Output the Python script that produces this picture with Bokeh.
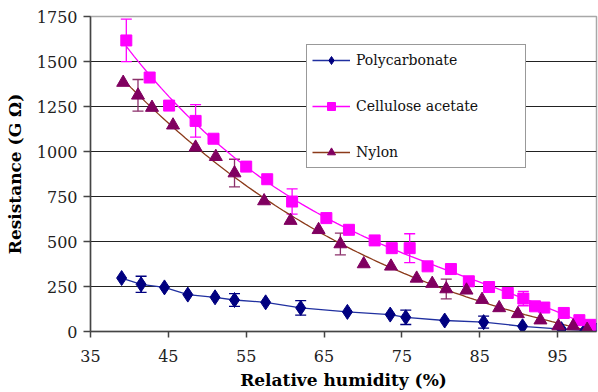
import numpy as np
from bokeh.plotting import figure
from bokeh.models import (ColumnDataSource, FixedTicker, Legend, LegendItem, Whisker, TeeHead)
from bokeh.embed import file_html
from bokeh.resources import INLINE

# ---- data ----
pc_x = [39, 41.5, 44.5, 47.5, 51, 53.5, 57.5, 62, 68, 73.5, 75.5, 80.5, 85.5, 90.5, 95.5, 98.5, 100]
pc_y = [297, 262, 245, 205, 190, 175, 162, 131, 109, 94, 79, 61, 52, 29, 13, 6, 5]
pc_err_x = [41.5, 53.5, 62, 75.5, 85.5]
pc_err_y = [262, 175, 131, 79, 52]
pc_err = [45, 35, 40, 40, 33]

ca_x = [39.6, 42.6, 45.1, 48.5, 50.8, 55.0, 57.7, 60.9, 65.3, 68.2, 71.5, 73.7, 76.0,
        78.3, 81.3, 83.6, 86.2, 88.6, 90.6, 92.1, 93.3, 95.8, 97.8, 99.2]
ca_y = [1617, 1411, 1255, 1170, 1071, 916, 846, 722, 630, 565, 506, 463, 463,
        362, 347, 279, 247, 214, 183, 140, 133, 103, 63, 37]
ca_err_x = [39.6, 48.5, 60.9, 76.0, 90.6]
ca_err_y = [1617, 1170, 722, 463, 183]
ca_err = [118, 90, 70, 80, 40]

ny_x = [39.2, 41.1, 42.9, 45.6, 48.5, 51.1, 53.5, 57.3, 60.7, 64.3, 67.1, 70.1, 73.6,
        76.9, 78.9, 80.7, 83.3, 85.3, 87.5, 89.9, 92.8, 95.1, 97.0, 98.8]
ny_y = [1383, 1312, 1244, 1146, 1023, 971, 880, 725, 616, 565, 486, 375, 362,
        295, 266, 236, 229, 177, 131, 98, 63, 30, 30, 11]
ny_err_x = [41.1, 53.5, 67.1, 80.7]
ny_err_y = [1312, 880, 486, 236]
ny_err = [88, 77, 60, 55]

x_ticks = [35, 45, 55, 65, 75, 85, 95]
y_ticks = [0, 250, 500, 750, 1000, 1250, 1500, 1750]

SERIF = "DejaVu Serif"

p = figure(width=598, height=392, output_backend="svg", toolbar_location=None,
           x_range=(35, 100), y_range=(0, 1750),
           min_border_left=90, min_border_right=2, min_border_top=16, min_border_bottom=60)
p.background_fill_color = "white"
p.border_fill_color = "white"
p.outline_line_color = "#a8a8a8"
p.outline_line_width = 1.5

# axes
p.xaxis.ticker = FixedTicker(ticks=x_ticks)
p.yaxis.ticker = FixedTicker(ticks=y_ticks)
for ax in (p.xaxis, p.yaxis):
    ax.major_label_text_font = SERIF
    ax.major_label_text_font_size = "16px"
    ax.major_label_text_color = "#222222"
    ax.axis_label_text_font = SERIF
    ax.axis_label_text_font_style = "bold"
    ax.axis_label_text_font_size = "17px"
    ax.axis_label_text_color = "black"
    ax.axis_line_color = "#444444"
    ax.axis_line_width = 1.5
    ax.major_tick_line_color = "#444444"
    ax.major_tick_line_width = 1.5
    ax.major_tick_in = 0
    ax.minor_tick_line_color = None
p.xaxis.major_tick_out = 6
p.yaxis.major_tick_out = 7
p.xaxis.major_label_standoff = 12
p.yaxis.major_label_standoff = 6
p.xaxis.axis_label_standoff = 5
p.yaxis.axis_label_standoff = 9
p.xaxis.axis_label = "Relative humidity (%)"
p.yaxis.axis_label = "Resistance (G \u03a9)"

p.xgrid.grid_line_color = None
p.ygrid.ticker = FixedTicker(ticks=[250, 500, 750, 1000, 1250, 1500])
p.ygrid.grid_line_color = "#222222"
p.ygrid.grid_line_width = 1.2

# colors
PC = "#000080"
CA = "#ff00ff"
NY_M = "#800060"
NY_L = "#8b3a1a"

def errbars(xs, ys, es, color):
    src = ColumnDataSource(dict(x=xs, lo=[y - e for y, e in zip(ys, es)], hi=[y + e for y, e in zip(ys, es)]))
    w = Whisker(source=src, base="x", lower="lo", upper="hi", line_color=color, line_width=1.3,
                upper_head=TeeHead(size=11, line_color=color, line_width=1.3),
                lower_head=TeeHead(size=11, line_color=color, line_width=1.3))
    p.add_layout(w)

# trend lines
ca_fit = np.polyfit(ca_x, ca_y, 3)
ca_lx = np.linspace(min(ca_x), max(ca_x), 120)
ny_fit = np.polyfit(ny_x, ny_y, 3)
ny_lx = np.linspace(min(ny_x), max(ny_x), 120)

l_pc = p.line(pc_x, pc_y, line_color="#2030a0", line_width=1.3)
l_ca = p.line(ca_lx, np.polyval(ca_fit, ca_lx), line_color=CA, line_width=1.3)
l_ny = p.line(ny_lx, np.polyval(ny_fit, ny_lx), line_color=NY_L, line_width=1.3)

errbars(pc_err_x, pc_err_y, pc_err, PC)
errbars(ca_err_x, ca_err_y, ca_err, CA)
errbars(ny_err_x, ny_err_y, ny_err, "#8b2f6a")

m_pc = p.scatter(pc_x, pc_y, marker="diamond", size=15, fill_color=PC, line_color=PC)
m_ca = p.scatter(ca_x, ca_y, marker="square", size=11, fill_color=CA, line_color=CA)
m_ny = p.scatter(ny_x, ny_y, marker="triangle", size=13, fill_color=NY_M, line_color=NY_M)

legend = Legend(items=[
    LegendItem(label="Polycarbonate", renderers=[l_pc, m_pc]),
    LegendItem(label="Cellulose acetate", renderers=[l_ca, m_ca]),
    LegendItem(label="Nylon", renderers=[l_ny, m_ny]),
], location=(216, 163))
legend.label_text_font = SERIF
legend.label_text_font_size = "14px"
legend.label_text_color = "#111111"
legend.glyph_width = 38
legend.glyph_height = 20
legend.label_height = 20
legend.label_width = 164
legend.spacing = 26
legend.padding = 5
legend.margin = 0
legend.label_standoff = 6
legend.border_line_color = "#333333"
legend.border_line_width = 1.3
legend.background_fill_alpha = 1.0
p.add_layout(legend)

open("out.html", "w").write(file_html(p, INLINE))
